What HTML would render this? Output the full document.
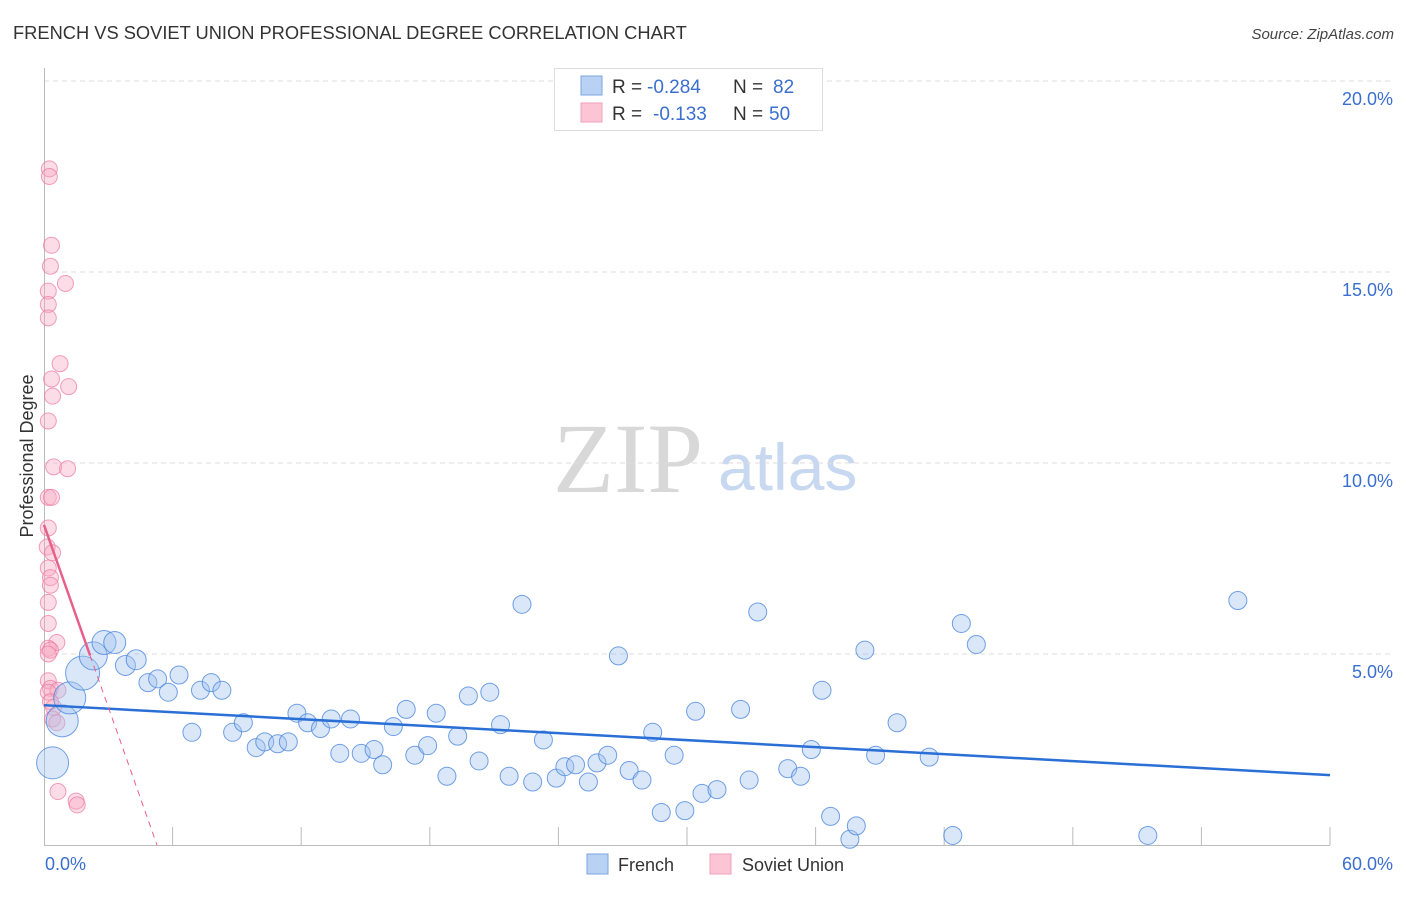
<!DOCTYPE html>
<html><head><meta charset="utf-8">
<style>
body{margin:0;background:#fff;font-family:"Liberation Sans",sans-serif;}
</style></head>
<body>
<svg id="chart" width="1406" height="892" viewBox="0 0 1406 892" xmlns="http://www.w3.org/2000/svg" style="font-family:'Liberation Sans',sans-serif">
<text x="13" y="39" font-size="18.3" fill="#333">FRENCH VS SOVIET UNION PROFESSIONAL DEGREE CORRELATION CHART</text>
<text x="1394" y="39" font-size="15" fill="#444" text-anchor="end" font-style="italic">Source: ZipAtlas.com</text>
<text x="553" y="492" font-size="100" fill="#d8d8d8" style="font-family:'Liberation Serif',serif">ZIP</text>
<text x="718" y="490" font-size="66" fill="#c8d8f0">atlas</text>
<text transform="translate(33,456) rotate(-90)" font-size="18" fill="#333" text-anchor="middle">Professional Degree</text>
<g id="grid"></g>
<g id="axes"></g>
<g id="marks"></g>
<g id="lines"></g>
<g>
<rect x="554.5" y="68.5" width="268" height="62" fill="#fff" stroke="#ddd"/>
<rect x="581" y="76" width="21" height="19" fill="#b9d2f4" stroke="#7aa6e0"/>
<rect x="581" y="103" width="21" height="19" fill="#fbc5d5" stroke="#f0a0b8"/>
<text x="612" y="93" font-size="19" fill="#333">R =</text>
<text x="647" y="93" font-size="19" fill="#3a6fd0">-0.284</text>
<text x="733" y="93" font-size="19" fill="#333">N =</text>
<text x="773" y="93" font-size="19" fill="#3a6fd0">82</text>
<text x="612" y="120" font-size="19" fill="#333">R =</text>
<text x="653" y="120" font-size="19" fill="#3a6fd0">-0.133</text>
<text x="733" y="120" font-size="19" fill="#333">N =</text>
<text x="769" y="120" font-size="19" fill="#3a6fd0">50</text>
</g>
<g>
<rect x="587" y="854" width="21" height="20" fill="#b9d2f4" stroke="#7aa6e0"/>
<text x="618" y="871" font-size="18" fill="#333">French</text>
<rect x="710" y="854" width="21" height="20" fill="#fbc5d5" stroke="#f0a0b8"/>
<text x="742" y="871" font-size="18" fill="#333">Soviet Union</text>
</g>
</svg>
<script>
const NS="http://www.w3.org/2000/svg";
const yTicks=[5,10,15,20];
const yTickLabels=["5.0%","10.0%","15.0%","20.0%"];
const xTickLabels=["0.0%","60.0%"];
const frenchX=[0.4,0.85,1.2,1.8,2.3,2.8,3.3,3.8,4.3,4.85,5.3,5.8,6.3,7.3,7.8,8.3,6.9,8.8,9.3,9.9,10.3,10.9,11.4,11.8,12.3,12.9,13.4,13.8,14.3,14.8,15.4,15.8,16.3,16.9,17.3,17.9,18.3,18.8,19.3,19.8,20.3,20.8,21.3,21.7,22.3,22.8,23.3,23.9,24.3,24.8,25.4,25.8,26.3,26.8,27.3,27.9,28.4,28.8,29.4,29.9,30.4,30.7,31.4,32.5,32.9,33.3,34.7,35.3,35.8,36.3,36.7,37.6,37.9,38.3,38.8,39.8,41.3,42.4,42.8,43.5,51.5,55.7];
const frenchY=[2.15,3.25,3.85,4.5,4.95,5.3,5.3,4.7,4.85,4.25,4.35,4.0,4.45,4.05,4.25,4.05,2.95,2.95,3.2,2.55,2.7,2.65,2.7,3.45,3.2,3.05,3.3,2.4,3.3,2.4,2.5,2.1,3.1,3.55,2.35,2.6,3.45,1.8,2.85,3.9,2.2,4.0,3.15,1.8,6.3,1.65,2.75,1.75,2.05,2.1,1.65,2.15,2.35,4.95,1.95,1.7,2.95,0.85,2.35,0.9,3.5,1.35,1.45,3.55,1.7,6.1,2.0,1.8,2.5,4.05,0.75,0.15,0.5,5.1,2.35,3.2,2.3,0.25,5.8,5.25,0.25,6.4];
const frenchR=[16,16,16,17,14,12,11,10,10,9,9,9,9,9,9,9,9,9,9,9,9,9,9,9,9,9,9,9,9,9,9,9,9,9,9,9,9,9,9,9,9,9,9,9,9,9,9,9,9,9,9,9,9,9,9,9,9,9,9,9,9,9,9,9,9,9,9,9,9,9,9,9,9,9,9,9,9,9,9,9,9,9];
const sovietX=[0.25,0.25,0.35,0.3,1.0,0.2,0.2,0.2,0.75,0.35,1.15,0.4,0.2,0.45,1.1,0.2,0.35,0.2,0.15,0.4,0.2,0.3,0.3,0.2,0.2,0.6,0.2,0.3,0.2,0.2,0.3,0.65,0.2,0.3,0.45,0.4,0.6,0.65,1.5,1.55];
const sovietY=[17.7,17.5,15.7,15.15,14.7,14.5,14.15,13.8,12.6,12.2,12.0,11.75,11.1,9.9,9.85,9.1,9.1,8.3,7.8,7.65,7.25,7.0,6.8,6.35,5.8,5.3,5.15,5.1,5.0,4.3,4.1,4.05,4.0,3.75,3.6,3.3,3.2,1.4,1.15,1.05];
const frenchTrend=[3.66,1.83];
const sovietTrend=[8.38,-1.59];
const X0=44,XPX=1286/60,Y0=845,YPX=38.2;
const sx=v=>X0+v*XPX, sy=v=>Y0-v*YPX;
function mk(tag,attrs,parent){const e=document.createElementNS(NS,tag);for(const k in attrs)e.setAttribute(k,attrs[k]);document.getElementById(parent).appendChild(e);return e;}
yTicks.forEach((t,i)=>{
 const g=mk('line',{x1:44,x2:1394,y1:sy(t),y2:sy(t),stroke:'#ddd','stroke-dasharray':'5,4'},'grid');
 
 
 const tx=mk('text',{x:1393,y:sy(t)+24,'font-size':18,fill:'#3a6fd0','text-anchor':'end'},'grid');
 tx.textContent=yTickLabels[i];
 
 
});
const ax=mk('path',{d:'M44.5,68V845.5H1330',stroke:'#bbb',fill:'none'},'axes');


for(let i=1;i<=10;i++){
 const t=mk('line',{x1:sx(i*6),x2:sx(i*6),y1:827,y2:845,stroke:'#bbb'},'axes');
 
 
}
const xl0=mk('text',{x:45,y:870,'font-size':18,fill:'#3a6fd0'},'axes');xl0.textContent=xTickLabels[0];


const xl1=mk('text',{x:1393,y:870,'font-size':18,fill:'#3a6fd0','text-anchor':'end'},'axes');xl1.textContent=xTickLabels[1];


sovietX.forEach((v,i)=>{
 const c=mk('circle',{cx:sx(v),cy:sy(sovietY[i]),r:8,fill:'rgba(248,170,195,0.4)',stroke:'rgba(235,120,160,0.7)','stroke-width':1},'marks');
 
 
});
frenchX.forEach((v,i)=>{
 const c=mk('circle',{cx:sx(v),cy:sy(frenchY[i]),r:frenchR[i],fill:'rgba(160,195,240,0.4)',stroke:'rgba(70,130,220,0.75)','stroke-width':1},'marks');
 
 
});
const fl=mk('line',{x1:sx(0),y1:sy(frenchTrend[0]),x2:sx(60),y2:sy(frenchTrend[1]),stroke:'#2a6fd6','stroke-width':2.5},'lines');


const sv=x=>sovietTrend[0]+sovietTrend[1]*x;
const xEnd=-sovietTrend[0]/sovietTrend[1];
const sl=mk('line',{x1:sx(0),y1:sy(sv(0)),x2:sx(2.15),y2:sy(sv(2.15)),stroke:'#e8608a','stroke-width':2.5},'lines');


const sd=mk('line',{x1:sx(2.15),y1:sy(sv(2.15)),x2:sx(xEnd),y2:sy(0),stroke:'#e8608a','stroke-width':1,'stroke-dasharray':'6,5'},'lines');


</script>
</body></html>
